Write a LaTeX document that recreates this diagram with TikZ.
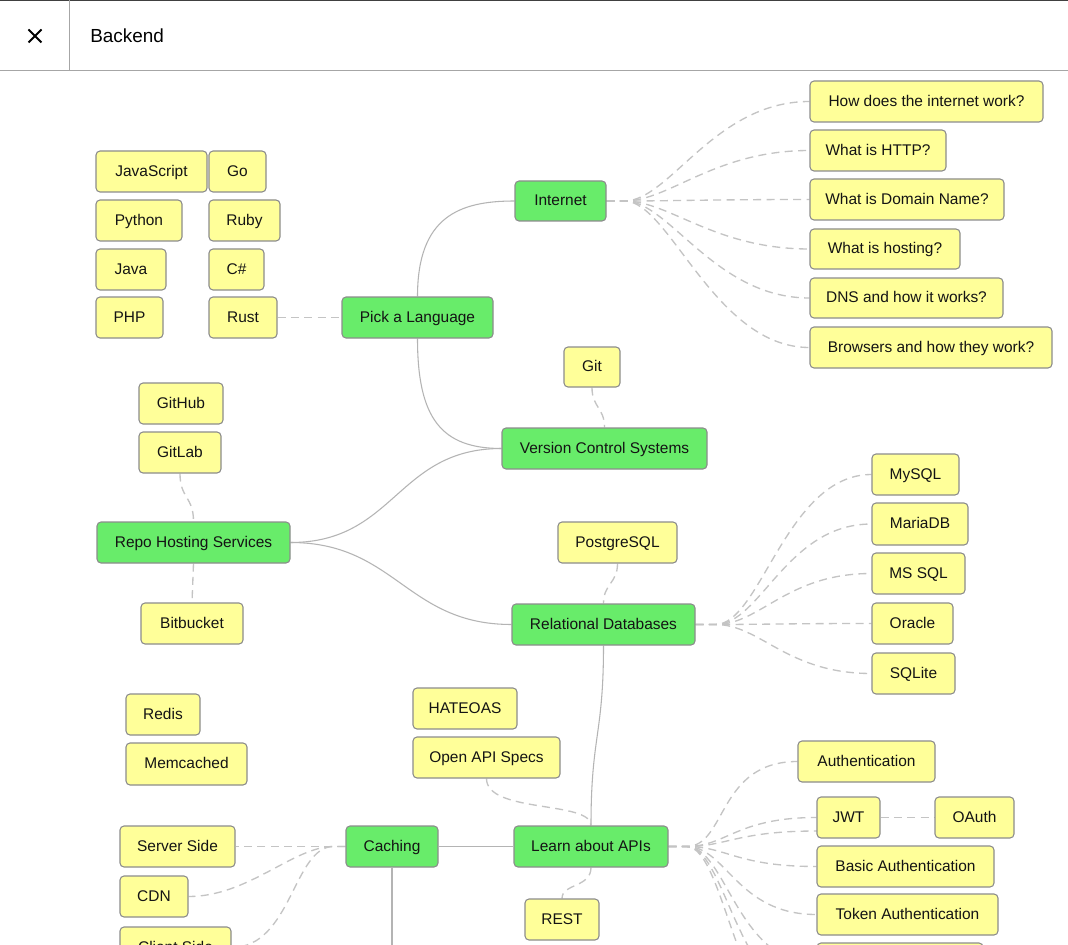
\documentclass[tikz,border=0pt]{standalone}
\usepackage{fontspec}
\setmainfont{Liberation Sans}
\pgfdeclarelayer{bg}
\pgfsetlayers{bg,main}
\definecolor{boxyellow}{HTML}{FFFF99}
\definecolor{boxgreen}{HTML}{68EC6A}
\definecolor{boxborder}{HTML}{8C8C8C}
\definecolor{solidline}{HTML}{B4B4B4}
\definecolor{dashline}{HTML}{C4C4C4}
\tikzset{
  base/.style={draw=boxborder, line width=0.8pt, rounded corners=3pt, inner sep=0pt,
    font=\fontsize{11.6}{13}\selectfont, text=black!92, text height=0.716em, text depth=0pt},
  yb/.style={base, fill=boxyellow},
  gb/.style={base, fill=boxgreen},
  solidc/.style={draw=solidline, line width=0.8pt},
  dashc/.style={draw=dashline, line width=1pt, dash pattern=on 6pt off 4pt},
}
\newcommand\bx[7]{\node[#1, minimum width={(#5-#3)*0.75pt}, minimum height={(#6-#4)*0.75pt}] (#2) at ({(#3+#5)/2},{(#4+#6)/2}) {#7};}
\begin{document}
\begin{tikzpicture}[x=0.75pt,y=-0.75pt]
\useasboundingbox (0,0) rectangle (1068,945);
\begin{pgfonlayer}{bg}
\fill[white] (0,0) rectangle (1068,945);
\end{pgfonlayer}
% header
\draw[black!75, line width=1pt] (0,0.5) -- (1068,0.5);
\draw[black!35, line width=0.8pt] (0,70.5) -- (1068,70.5);
\draw[black!35, line width=0.8pt] (69.5,0) -- (69.5,70.5);
\draw[black, line width=1.4pt] (28.5,29.5) -- (41.5,42.5) (41.5,29.5) -- (28.5,42.5);
\node[anchor=west, inner sep=0pt, font=\fontsize{14.2}{16}\selectfont] (title) at (90,36) {Backend};
% nodes
\bx{yb}{js}{96}{151}{207}{192}{JavaScript}
\bx{yb}{go}{209}{151}{266}{192}{Go}
\bx{yb}{python}{96}{200}{182}{241}{Python}
\bx{yb}{ruby}{209}{200}{280}{241}{Ruby}
\bx{yb}{java}{96}{249}{166}{290}{Java}
\bx{yb}{csharp}{209}{249}{264}{290}{C\#}
\bx{yb}{php}{96}{297}{163}{338}{PHP}
\bx{yb}{rust}{209}{297}{277}{338}{Rust}
\bx{gb}{pick}{342}{297}{493}{338}{Pick a Language}
\bx{gb}{internet}{515}{181}{606}{221}{Internet}
\bx{yb}{i1}{810}{81}{1043}{122}{How does the internet work?}
\bx{yb}{i2}{810}{130}{946}{171}{What is HTTP?}
\bx{yb}{i3}{810}{179}{1004}{220}{What is Domain Name?}
\bx{yb}{i4}{810}{229}{960}{269}{What is hosting?}
\bx{yb}{i5}{810}{278}{1003}{318}{DNS and how it works?}
\bx{yb}{i6}{810}{327}{1052}{368}{Browsers and how they work?}
\bx{yb}{git}{564}{347}{620}{387}{Git}
\bx{gb}{vcs}{502}{428}{707}{469}{Version Control Systems}
\bx{yb}{github}{139}{383}{223}{424}{GitHub}
\bx{yb}{gitlab}{139}{432}{221}{473}{GitLab}
\bx{gb}{repo}{97}{522}{290}{563}{Repo Hosting Services}
\bx{yb}{bitbucket}{141}{603}{243}{644}{Bitbucket}
\bx{yb}{postgres}{558}{522}{677}{563}{PostgreSQL}
\bx{gb}{rdb}{512}{604}{695}{645}{Relational Databases}
\bx{yb}{mysql}{872}{454}{959}{495}{MySQL}
\bx{yb}{mariadb}{872}{503}{968}{545}{MariaDB}
\bx{yb}{mssql}{872}{553}{965}{594}{MS SQL}
\bx{yb}{oracle}{872}{603}{953}{644}{Oracle}
\bx{yb}{sqlite}{872}{653}{955}{694}{SQLite}
\bx{yb}{hateoas}{413}{688}{517}{729}{HATEOAS}
\bx{yb}{openapi}{413}{737}{560}{778}{Open API Specs}
\bx{yb}{redis}{126}{694}{200}{735}{Redis}
\bx{yb}{memcached}{126}{743}{247}{785}{Memcached}
\bx{yb}{authn}{798}{741}{935}{782}{Authentication}
\bx{yb}{jwt}{817}{797}{880}{838}{JWT}
\bx{yb}{oauth}{935}{797}{1014}{838}{OAuth}
\bx{yb}{basic}{817}{846}{994}{887}{Basic Authentication}
\bx{yb}{token}{817}{894}{998}{935}{Token Authentication}
\bx{gb}{apis}{514}{826}{668}{867}{Learn about APIs}
\bx{gb}{caching}{346}{826}{438}{867}{Caching}
\bx{yb}{server}{120}{826}{235}{867}{Server Side}
\bx{yb}{cdn}{120}{876}{188}{917}{CDN}
\bx{yb}{client}{120}{927}{231}{968}{Client Side}
\bx{yb}{rest}{525}{899}{599}{940}{REST}
\bx{yb}{cutbox}{817}{943}{983}{984}{}
% connectors
\coordinate (cachdown) at (392,960);
\coordinate (jwtlow) at (817,831);
\coordinate (off2) at (817,1000);
\coordinate (off3) at (817,1040);
\begin{pgfonlayer}{bg}
\draw[solidc] (pick.north) .. controls +(0,-80) and +(-55,0) .. (internet.west);
\draw[solidc] (pick.south) .. controls +(0,80) and +(-60,0) .. (vcs.west);
\draw[solidc] (repo.east) .. controls +(105,0) and +(-105,0) .. (vcs.west);
\draw[solidc] (repo.east) .. controls +(105,0) and +(-105,0) .. (rdb.west);
\draw[solidc] (rdb.south) .. controls +(0,90) and +(0,-90) .. (apis.north);
\draw[solidc] (caching.east) -- (apis.west);
\draw[solidc] (caching.south) -- (cachdown);
\draw[dashc] (rust.east) -- (pick.west);
\foreach \t in {i1,i2,i3,i4,i5,i6}
  \draw[dashc] (internet.east) -- ++(18,0) .. controls +(45,0) and +(-95,0) .. (\t.west);
\draw[dashc] (git.south) .. controls +(0,20) and +(0,-20) .. (vcs.north);
\draw[dashc] (gitlab.south) .. controls +(0,25) and +(0,-25) .. (repo.north);
\draw[dashc] (repo.south) -- (bitbucket.north);
\draw[dashc] (postgres.south) .. controls +(0,20) and +(0,-20) .. (rdb.north);
\foreach \t in {mysql,mariadb,mssql,oracle,sqlite}
  \draw[dashc] (rdb.east) -- ++(20,0) .. controls +(45,0) and +(-85,0) .. (\t.west);
\draw[dashc] (openapi.south) .. controls +(0,35) and +(0,-25) .. (apis.north);
\draw[dashc] (apis.south) .. controls +(0,20) and +(0,-15) .. (rest.north);
\draw[dashc] (jwt.east) -- (oauth.west);
\foreach \t in {authn.west,jwt.west,jwtlow,basic.west,token.west,cutbox.west,off2,off3}
  \draw[dashc] (apis.east) -- ++(18,0) .. controls +(40,0) and +(-80,0) .. (\t);
\draw[dashc] (caching.west) -- (server.east);
\foreach \t in {cdn,client}
  \draw[dashc] (caching.west) -- ++(-12,0) .. controls +(-40,0) and +(60,0) .. (\t.east);
\end{pgfonlayer}
\end{tikzpicture}
\end{document}
